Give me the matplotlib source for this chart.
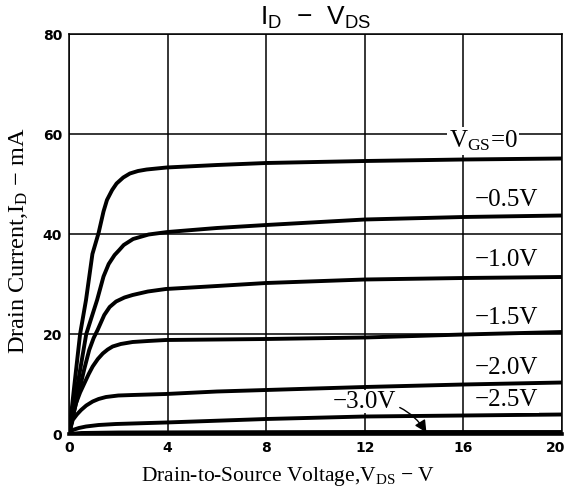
import matplotlib
matplotlib.use("Agg")
import matplotlib.pyplot as plt
from matplotlib.transforms import ScaledTranslation

plt.rcParams['mathtext.fontset'] = 'custom'
plt.rcParams['mathtext.rm'] = 'Liberation Serif'
plt.rcParams['mathtext.sf'] = 'Liberation Sans'

# I_D vs V_DS curves, one per gate voltage
vds_0 = [0, 0.2, 0.45, 0.69, 0.95, 1.2, 1.4, 1.54, 1.75, 1.93, 2.2, 2.47, 2.8, 3.15, 3.96, 6, 8, 12, 16, 20]
id_0 = [0, 9, 20, 26.8, 36, 40.2, 44.5, 46.8, 48.8, 50.1, 51.3, 52.1, 52.6, 52.9, 53.3, 53.8, 54.2, 54.6, 54.9, 55.1]

vds_05 = [0, 0.25, 0.7, 1.14, 1.4, 1.61, 1.85, 2.04, 2.22, 2.6, 3.23, 4, 6, 8, 12, 16, 20]
id_05 = [0, 7, 20, 26.8, 31.5, 34.0, 35.8, 36.8, 37.8, 39.0, 39.9, 40.4, 41.2, 41.8, 42.9, 43.4, 43.7]

vds_10 = [0, 0.2, 0.42, 0.62, 0.82, 1.0, 1.16, 1.43, 1.65, 1.91, 2.25, 2.58, 3.2, 3.93, 6, 8, 12, 16, 20]
id_10 = [0, 4.5, 8.8, 13, 16.8, 19.2, 20.8, 23.8, 25.4, 26.5, 27.3, 27.8, 28.5, 29.0, 29.6, 30.2, 30.9, 31.2, 31.4]

vds_15 = [0, 0.28, 0.45, 0.62, 0.8, 0.96, 1.17, 1.37, 1.57, 1.77, 2.1, 2.58, 3.2, 3.93, 6, 8, 12, 16, 20]
id_15 = [0, 6.1, 8.3, 10.1, 12.0, 13.5, 15.0, 16.1, 16.9, 17.5, 18.0, 18.4, 18.6, 18.8, 18.9, 19.0, 19.3, 19.9, 20.4]

vds_20 = [0, 0.15, 0.32, 0.49, 0.7, 0.96, 1.2, 1.5, 2.0, 2.58, 3.93, 6, 8, 12, 16, 20]
id_20 = [0, 2.8, 3.9, 4.8, 5.7, 6.5, 7.0, 7.4, 7.7, 7.8, 8.0, 8.5, 8.8, 9.4, 9.9, 10.3]

vds_25 = [0, 0.15, 0.4, 0.69, 1.2, 1.9, 3.93, 8, 12, 16, 20]
id_25 = [0, 0.8, 1.2, 1.5, 1.8, 2.0, 2.3, 3.0, 3.5, 3.7, 3.9]

vds_30 = [0, 0.5, 2, 6, 12, 20]
id_30 = [0, 0.2, 0.3, 0.35, 0.4, 0.4]

curves = [(vds_0, id_0), (vds_05, id_05), (vds_10, id_10), (vds_15, id_15),
          (vds_20, id_20), (vds_25, id_25), (vds_30, id_30)]

# curve labels at the right side
labels = [r'$\mathrm{V_{GS}}$=0', '−0.5V', '−1.0V', '−1.5V', '−2.0V', '−2.5V']
label_x = [15.4, 16.45, 16.45, 16.45, 16.45, 16.45]
label_y = [58.6, 46.8, 34.8, 23.3, 13.1, 6.7]

xticks = [0, 4, 8, 12, 16, 20]
yticks = [0, 20, 40, 60, 80]


def main():
    fig = plt.figure(figsize=(5.69, 4.95), dpi=100)
    ax = fig.add_axes([69 / 569, 1 - 434 / 495, 493 / 569, 400 / 495])

    for x, y in curves:
        ax.plot(x, y, color='black', lw=2.8, solid_joinstyle='round',
                solid_capstyle='round', zorder=3)

    ax.set_xlim(0, 20)
    ax.set_ylim(0, 80)
    ax.set_xticks(xticks)
    ax.set_yticks(yticks)
    ax.grid(True, color='black', lw=1.1)
    ax.tick_params(length=0, pad=5)
    for lab in ax.get_xticklabels() + ax.get_yticklabels():
        lab.set_fontfamily('DejaVu Sans')
        lab.set_fontweight('bold')
        lab.set_fontsize(10)
    # last x label would run past the figure edge, pull it in a bit
    last = ax.get_xticklabels()[-1]
    last.set_transform(last.get_transform() + ScaledTranslation(-6 / 100, 0, fig.dpi_scale_trans))
    for side in ['top', 'right', 'left']:
        ax.spines[side].set_linewidth(1.1)
    ax.spines['bottom'].set_linewidth(2.6)

    for txt, x, y in zip(labels, label_x, label_y):
        ax.text(x, y, txt, ha='left', va='center',
                fontfamily='Liberation Serif', fontsize=18, zorder=4,
                bbox=dict(facecolor='white', edgecolor='none', pad=1.0))

    ax.annotate('−3.0V', xy=(14.5, 0.3), xytext=(12.0, 6.5), ha='center', va='center',
                fontfamily='Liberation Serif', fontsize=18, zorder=4,
                bbox=dict(facecolor='white', edgecolor='none', pad=0.5),
                arrowprops=dict(arrowstyle='-|>', color='black', lw=1.0,
                                connectionstyle='arc3,rad=-0.3', shrinkA=2, shrinkB=0))

    ax.text(10.0, 80.6, r'$\mathsf{I_D}$  −  $\mathsf{V_{DS}}$', ha='center', va='bottom',
            fontfamily='Liberation Sans', fontsize=19, clip_on=False)

    ax.text(8.9, -8.4, r'Drain-to-Source Voltage,$\mathrm{V_{DS}}$ − V', ha='center', va='center',
            fontfamily='Liberation Serif', fontsize=15.5)
    fig.text(19 / 569, 1 - 241 / 495, r'Drain Current,$\mathrm{I_D}$ − mA', rotation=90,
             ha='center', va='center', fontfamily='Liberation Serif', fontsize=17.5)

    fig.savefig('out.png', dpi=100)


if __name__ == "__main__":
    main()
